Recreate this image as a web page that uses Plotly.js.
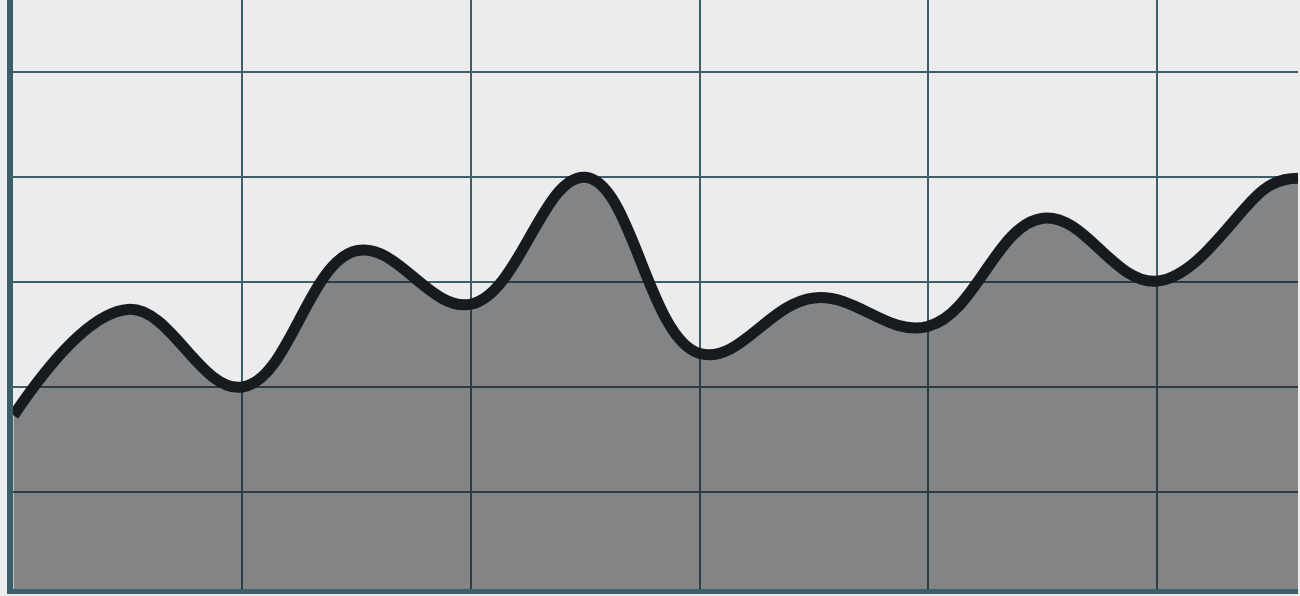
<!DOCTYPE html>
<html>
<head>
<meta charset="utf-8">
<script src="https://cdn.plot.ly/plotly-3.0.1.min.js"></script>
<style>html,body{margin:0;padding:0;background:#ececec;}#chart{width:1300px;height:596px;}</style>
</head>
<body>
<div id="chart"></div>
<script>
// data
const xValues = [0, 0.5, 1, 1.5, 2, 2.5, 3, 3.5, 4, 4.5, 5, 5.5, 5.616];
const yValues = [17.3, 27.4, 20.0, 33.0, 27.9, 40.0, 23.2, 28.5, 25.8, 36.1, 30.1, 39.3, 39.9];

const trace = {
  x: xValues,
  y: yValues,
  type: 'scatter',
  mode: 'lines',
  fill: 'tozeroy',
  fillcolor: 'rgba(23,27,31,0.50)',
  line: {color: '#171b1f', width: 11, shape: 'spline', smoothing: 1.15},
  hoverinfo: 'none'
};

const layout = {
  width: 1300,
  height: 596,
  margin: {l: 13, r: 2, t: 0, b: 7, pad: 0},
  paper_bgcolor: '#ececec',
  plot_bgcolor: '#ececec',
  showlegend: false,
  xaxis: {
    range: [-0.0026, 5.616],
    tick0: 0, dtick: 1,
    showgrid: true, gridcolor: '#3e5e68', gridwidth: 2,
    showticklabels: false, ticks: '',
    zeroline: false,
    showline: true, linecolor: '#3b5f69', linewidth: 5
  },
  yaxis: {
    range: [0.75, 56.9],
    tick0: 0, dtick: 10,
    showgrid: true, gridcolor: '#3e5e68', gridwidth: 2,
    showticklabels: false, ticks: '',
    zeroline: false,
    showline: true, linecolor: '#3b5f69', linewidth: 6.5
  }
};

Plotly.newPlot('chart', [trace], layout, {staticPlot: true, displayModeBar: false});
</script>
</body>
</html>
